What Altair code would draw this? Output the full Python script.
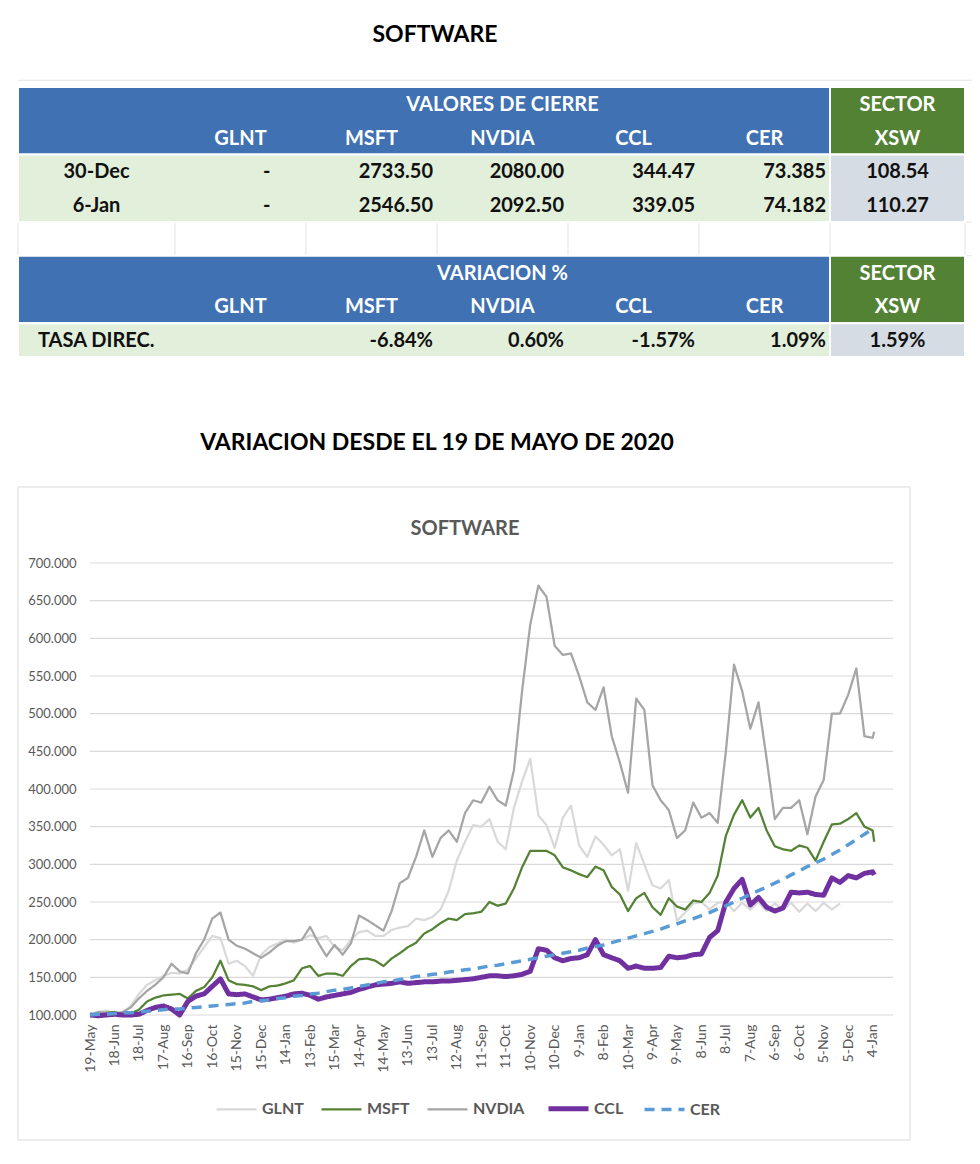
import altair as alt
import pandas as pd

# ---------------- data ----------------
dates = ["2020-05-19","2020-05-29","2020-06-08","2020-06-18","2020-06-28","2020-07-08","2020-07-18","2020-07-28",
         "2020-08-07","2020-08-17","2020-08-27","2020-09-06","2020-09-16","2020-09-26","2020-10-06","2020-10-16",
         "2020-10-26","2020-11-05","2020-11-15","2020-11-25","2020-12-05","2020-12-15","2020-12-25","2021-01-04",
         "2021-01-14","2021-01-24","2021-02-03","2021-02-13","2021-02-23","2021-03-05","2021-03-15","2021-03-25",
         "2021-04-04","2021-04-14","2021-04-24","2021-05-04","2021-05-14","2021-05-24","2021-06-03","2021-06-13",
         "2021-06-23","2021-07-03","2021-07-13","2021-07-23","2021-08-02","2021-08-12","2021-08-22","2021-09-01",
         "2021-09-11","2021-09-21","2021-10-01","2021-10-11","2021-10-21","2021-10-31","2021-11-10","2021-11-20",
         "2021-11-30","2021-12-10","2021-12-20","2021-12-30","2022-01-09","2022-01-19","2022-01-29","2022-02-08",
         "2022-02-18","2022-02-28","2022-03-10","2022-03-20","2022-03-30","2022-04-09","2022-04-19","2022-04-29",
         "2022-05-09","2022-05-19","2022-05-29","2022-06-08","2022-06-18","2022-06-28","2022-07-08","2022-07-18",
         "2022-07-28","2022-08-07","2022-08-17","2022-08-27","2022-09-06","2022-09-16","2022-09-26","2022-10-06",
         "2022-10-16","2022-10-26","2022-11-05","2022-11-15","2022-11-25","2022-12-05","2022-12-15","2022-12-25",
         "2023-01-04","2023-01-06"]

glnt = [100,104,106,102,103,112,128,140,146,152,156,155,160,175,190,205,
        202,168,172,165,152,180,190,195,200,196,200,206,202,205,190,186,
        200,210,212,205,205,213,216,218,228,226,230,240,265,305,330,352,
        350,360,330,320,375,410,440,365,352,322,362,378,325,310,337,326,
        312,320,265,328,300,272,268,279,225,236,248,250,240,249,250,238,
        249,240,250,238,248,240,249,237,248,238,249,240,248,None,None,None,
        None,None]

msft = [100,101,103,104,101,102,107,118,123,126,127,128,122,132,137,150,
        172,146,141,140,138,133,138,139,142,146,162,165,152,155,155,152,
        165,174,175,172,165,175,182,190,196,208,214,222,228,226,234,235,
        237,250,245,248,268,296,318,318,318,312,296,292,287,283,297,292,
        270,260,238,255,262,243,233,255,244,240,252,250,262,285,338,366,
        385,362,375,345,324,320,318,325,322,305,330,353,354,360,368,350,
        345,330]

nvda = [100,104,103,102,104,110,122,132,140,150,168,158,155,182,200,228,
        236,200,192,188,182,176,183,192,198,198,200,217,196,178,193,180,
        195,232,226,219,212,238,275,282,310,345,310,335,345,330,368,385,
        382,403,385,378,425,530,618,670,655,590,578,580,550,515,505,535,
        470,435,395,520,505,405,385,372,335,345,382,362,368,355,450,565,
        530,480,515,440,360,375,375,385,340,390,412,500,500,525,560,470,
        468,476]

ccl = [100,99,100,101,100,100,101,106,110,112,108,100,118,125,128,138,
       148,128,127,128,124,120,121,123,125,128,129,126,121,124,126,128,
       130,134,137,140,141,142,144,142,143,144,144,145,145,146,147,148,
       150,152,152,151,152,154,158,188,186,176,172,175,176,180,200,180,
       176,172,162,165,162,162,163,178,176,177,180,181,203,212,250,268,
       280,246,256,243,238,242,263,262,263,260,259,282,276,285,282,288,
       290,286]

cer = [100,101,101,102,103,103,104,105,106,107,108,108,109,110,111,112,
       113,114,115,116,118,119,120,122,123,125,126,128,129,131,133,134,
       136,138,140,142,144,145,147,149,151,152,154,155,157,158,160,161,
       163,165,166,168,170,172,174,176,178,180,182,184,186,189,191,193,
       196,199,202,205,208,211,214,218,221,225,228,232,236,241,245,250,
       255,260,265,270,275,280,286,291,297,302,307,313,319,326,333,340,
       347,348]

series_names = ["GLNT", "MSFT", "NVDIA", "CCL", "CER"]
series_values = [glnt, msft, nvda, ccl, cer]

tick_dates = ["2020-05-19","2020-06-18","2020-07-18","2020-08-17","2020-09-16","2020-10-16","2020-11-15",
              "2020-12-15","2021-01-14","2021-02-13","2021-03-15","2021-04-14","2021-05-14","2021-06-13",
              "2021-07-13","2021-08-12","2021-09-11","2021-10-11","2021-11-10","2021-12-10","2022-01-09",
              "2022-02-08","2022-03-10","2022-04-09","2022-05-09","2022-06-08","2022-07-08","2022-08-07",
              "2022-09-06","2022-10-06","2022-11-05","2022-12-05","2023-01-04"]
y_ticks = [100, 150, 200, 250, 300, 350, 400, 450, 500, 550, 600, 650, 700]

# table contents
stock_headers = ["GLNT", "MSFT", "NVDIA", "CCL", "CER"]
close_dates = ["30-Dec", "6-Jan"]
close_30dec = ["-", "2733.50", "2080.00", "344.47", "73.385"]
close_6jan = ["-", "2546.50", "2092.50", "339.05", "74.182"]
xsw_close = ["108.54", "110.27"]
var_label = "TASA DIREC."
var_values = ["", "-6.84%", "0.60%", "-1.57%", "1.09%"]
xsw_var = "1.59%"

# ---------------- styles ----------------
FONT = "Lato"
GRAY_TXT = "#595959"
BLUE = "#4071B2"
GREEN = "#548235"
LIGHT_GREEN = "#E2EFDA"
GRAY_BLUE = "#D6DCE4"
GRID = "#D9D9D9"
series_colors = ["#D9D9D9", "#548235", "#A5A5A5", "#7030A0", "#5B9BD5"]
series_widths = [2.25, 2.25, 2.25, 5, 3.5]
series_dashes = [[1, 0], [1, 0], [1, 0], [1, 0], [10, 7]]

W, H = 964, 1148


def dt(s):
    y, m, d = (int(p) for p in s.split("-"))
    return alt.DateTime(year=y, month=m, date=d, utc=True)


# ---------------- line chart ----------------
rows = []
for i, (name, vals) in enumerate(zip(series_names, series_values)):
    for d, v in zip(dates, vals):
        if v is not None:
            rows.append({"date": d, "series": name, "idx": i, "value": v})
lines_df = pd.DataFrame(rows)

x_scale = alt.Scale(type="utc", domain=[dt("2020-05-19"), dt("2023-01-29")], range=[82, 885])
y_scale = alt.Scale(domain=[100, 700], range=[1007, 555], nice=False, zero=False)

x_axis = alt.Axis(orient="bottom", offset=-(H - 1007), values=[dt(s) for s in tick_dates],
                  labelExpr="utcFormat(datum.value, '%-d-%b')", labelAngle=270, labelPadding=9,
                  domain=False, ticks=False, grid=False, title=None, labelFont=FONT,
                  labelFontSize=14, labelColor=GRAY_TXT, labelOverlap=False, labelFlush=False)
y_axis = alt.Axis(orient="left", offset=-82, values=y_ticks, format=".3f", domain=False,
                  ticks=False, grid=False, title=None, labelPadding=14, labelFont=FONT,
                  labelFontSize=13, labelColor=GRAY_TXT)

grid_rules = alt.Chart(pd.DataFrame({"value": y_ticks})).mark_rule(
    color=GRID, strokeWidth=1.2).encode(
    y=alt.Y("value:Q", scale=y_scale, axis=y_axis),
    x=alt.value(82), x2=alt.value(885))

# series index -> style through threshold scales (one bin per series)
bins = [k + 0.5 for k in range(len(series_names) - 1)]
label_expr = ""
for k, name in enumerate(series_names[:-1]):
    label_expr += f"datum.value < {k} ? '{name}' : "
label_expr += f"'{series_names[-1]}'"

legend = alt.Legend(orient="none", legendX=206, legendY=1078, direction="horizontal", type="symbol",
                    columns=5, title=None, symbolType="stroke", symbolSize=1600,
                    labelExpr=label_expr,
                    labelFont=FONT, labelFontSize=16, labelFontWeight="bold",
                    labelColor=GRAY_TXT, columnPadding=13, labelOffset=3)

lines = alt.Chart(lines_df).mark_line(strokeCap="butt", strokeJoin="round").encode(
    x=alt.X("date:T", scale=x_scale, axis=x_axis),
    y=alt.Y("value:Q", scale=y_scale, axis=y_axis),
    color=alt.Color("idx:Q", scale=alt.Scale(type="threshold", domain=bins, range=series_colors),
                    legend=legend),
    strokeWidth=alt.StrokeWidth("idx:Q", scale=alt.Scale(type="threshold", domain=bins, range=series_widths),
                                legend=legend),
    strokeDash=alt.StrokeDash("idx:Q", scale=alt.Scale(type="threshold", domain=bins, range=series_dashes),
                              legend=legend),
    detail="series:N",
)

line_part = alt.layer(grid_rules, lines)

# ---------------- tables ----------------
tx_scale = alt.Scale(type="linear", domain=[0, 1, 6, 7], range=[10, 167, 822, 957], nice=False, zero=False)
ty_scale = alt.Scale(type="linear", domain=[0, 8], range=[79, 349], nice=False, zero=False)

blocks = pd.DataFrame([
    {"c0": 0, "c1": 6, "r0": 0, "r1": 2, "fill": BLUE},
    {"c0": 6, "c1": 7, "r0": 0, "r1": 2, "fill": GREEN},
    {"c0": 0, "c1": 6, "r0": 2, "r1": 4, "fill": LIGHT_GREEN},
    {"c0": 6, "c1": 7, "r0": 2, "r1": 4, "fill": GRAY_BLUE},
    {"c0": 0, "c1": 6, "r0": 5, "r1": 7, "fill": BLUE},
    {"c0": 6, "c1": 7, "r0": 5, "r1": 7, "fill": GREEN},
    {"c0": 0, "c1": 6, "r0": 7, "r1": 8, "fill": LIGHT_GREEN},
    {"c0": 6, "c1": 7, "r0": 7, "r1": 8, "fill": GRAY_BLUE},
])
rects = alt.Chart(blocks).mark_rect(stroke="white", strokeWidth=2).encode(
    x=alt.X("c0:Q", scale=tx_scale, axis=None), x2="c1:Q",
    y=alt.Y("r0:Q", scale=ty_scale, axis=None), y2="r1:Q",
    fill=alt.Fill("fill:N", scale=None))

hlines = alt.Chart(pd.DataFrame({"r": [-0.2, 4, 5], "c0": [0, 0, 0], "c1": [7.3, 7.3, 7.3]})).mark_rule(
    color="#E3E3E3", strokeWidth=1).encode(
    y=alt.Y("r:Q", scale=ty_scale, axis=None),
    x=alt.X("c0:Q", scale=tx_scale, axis=None), x2="c1:Q")
vlines = alt.Chart(pd.DataFrame({"c": [0, 1, 2, 3, 4, 5, 6, 7], "r0": [4] * 8, "r1": [5] * 8})).mark_rule(
    color="#E3E3E3", strokeWidth=1).encode(
    x=alt.X("c:Q", scale=tx_scale, axis=None),
    y=alt.Y("r0:Q", scale=ty_scale, axis=None), y2="r1:Q")

center_txt, right_txt, left_txt = [], [], []
for hrow, title in [(0, "VALORES DE CIERRE"), (5, "VARIACION %")]:
    center_txt.append({"c": 3.5, "r": hrow + 0.5, "t": title, "col": "white"})
    center_txt.append({"c": 6.5, "r": hrow + 0.5, "t": "SECTOR", "col": "white"})
    center_txt.append({"c": 6.5, "r": hrow + 1.5, "t": "XSW", "col": "white"})
    for i, h in enumerate(stock_headers):
        center_txt.append({"c": 1.5 + i, "r": hrow + 1.5, "t": h, "col": "white"})
for k, (lab, vals) in enumerate(zip(close_dates, [close_30dec, close_6jan])):
    r = 2.5 + k
    center_txt.append({"c": 0.5, "r": r, "t": lab, "col": "#111111"})
    center_txt.append({"c": 1.7, "r": r, "t": vals[0], "col": "#111111"})
    for i in range(1, 5):
        right_txt.append({"c": 2 + i, "r": r, "t": vals[i], "col": "#111111"})
    center_txt.append({"c": 6.5, "r": r, "t": xsw_close[k], "col": "#111111"})
left_txt.append({"c": 0, "r": 7.5, "t": var_label, "col": "#111111"})
for i in range(1, 5):
    right_txt.append({"c": 2 + i, "r": 7.5, "t": var_values[i], "col": "#111111"})
center_txt.append({"c": 6.5, "r": 7.5, "t": xsw_var, "col": "#111111"})


def txt_layer(data, align, dx):
    return alt.Chart(pd.DataFrame(data)).mark_text(
        align=align, baseline="middle", dx=dx, dy=1, font=FONT, fontSize=20, fontWeight="bold").encode(
        x=alt.X("c:Q", scale=tx_scale, axis=None),
        y=alt.Y("r:Q", scale=ty_scale, axis=None),
        text="t:N",
        color=alt.Color("col:N", scale=None))


table_part = alt.layer(hlines, vlines, rects,
                       txt_layer(center_txt, "center", 0),
                       txt_layer(right_txt, "right", -4),
                       txt_layer(left_txt, "left", 20))

# ---------------- decorations: titles and chart box ----------------
one = pd.DataFrame({"a": [0]})
box = alt.Chart(one).mark_rect(fillOpacity=0, stroke=GRID, strokeWidth=1).encode(
    x=alt.value(10), x2=alt.value(902), y=alt.value(479), y2=alt.value(1132))
title_top = alt.Chart(one).mark_text(font=FONT, fontSize=23, fontWeight="bold", color="black",
                                     baseline="middle").encode(
    x=alt.value(427), y=alt.value(27), text=alt.value("SOFTWARE"))
title_mid = alt.Chart(one).mark_text(font=FONT, fontSize=23, fontWeight="bold", color="black",
                                     baseline="middle").encode(
    x=alt.value(429), y=alt.value(435), text=alt.value("VARIACION DESDE EL 19 DE MAYO DE 2020"))
title_chart = alt.Chart(one).mark_text(font=FONT, fontSize=20, fontWeight="bold", color=GRAY_TXT,
                                       baseline="middle").encode(
    x=alt.value(457), y=alt.value(521), text=alt.value("SOFTWARE"))

chart = alt.layer(line_part, table_part, box, title_top, title_mid, title_chart).resolve_scale(
    x="independent", y="independent"
).properties(
    width=W, height=H, autosize="none", padding=0, background="white"
).configure_view(stroke=None)

chart.save("out.html", embed_options={"renderer": "svg", "actions": False})
